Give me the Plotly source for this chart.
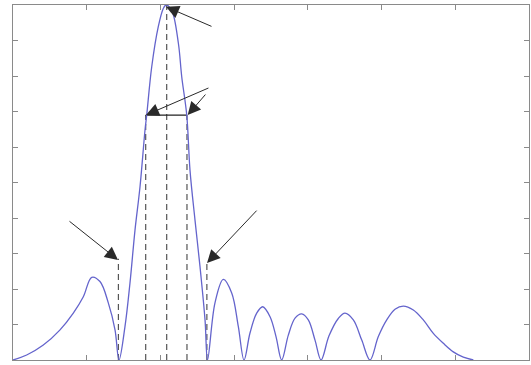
import plotly.graph_objects as go

# Curve samples
curve_x = [0.0, 0.186, 0.411, 0.638, 0.818, 0.954, 1.068, 1.180, 1.293, 1.384, 1.438,
           1.519, 1.587, 1.655, 1.723, 1.791, 1.814, 1.882, 1.971, 2.039, 2.076,
           2.153, 2.243, 2.289, 2.357, 2.401, 2.469, 2.537, 2.605, 2.639,
           2.740, 2.853, 2.967, 3.057, 3.134, 3.215, 3.306, 3.388, 3.487, 3.568, 3.645,
           3.735, 3.826, 3.917, 4.006, 4.097, 4.179, 4.287, 4.413, 4.504, 4.617, 4.731, 4.843,
           4.956, 5.070, 5.182, 5.295, 5.431, 5.566, 5.702, 5.838, 5.973, 6.109, 6.245]
curve_y = [0.0, 0.014, 0.042, 0.085, 0.132, 0.178, 0.233, 0.221, 0.161, 0.085, 0.0,
           0.094, 0.217, 0.366, 0.488, 0.648, 0.690, 0.826, 0.939, 0.990, 1.0,
           0.985, 0.893, 0.798, 0.690, 0.535, 0.394, 0.263, 0.113, 0.0,
           0.161, 0.227, 0.189, 0.094, 0.0, 0.076, 0.132, 0.150, 0.122, 0.066, 0.0,
           0.070, 0.118, 0.130, 0.113, 0.056, 0.0, 0.068, 0.117, 0.132, 0.113, 0.056, 0.0,
           0.066, 0.113, 0.143, 0.152, 0.141, 0.113, 0.075, 0.047, 0.023, 0.008, 0.0]

# Dashed marker lines: x position and top height
dash_x = [1.43, 1.80, 2.085, 2.36, 2.63]
dash_top = [0.285, 0.69, 1.0, 0.69, 0.275]

# Half-power bar
bar_x = [1.80, 2.36]
bar_y = [0.69, 0.69]

# Arrows: head (x, y) and tail (ax, ay)
arrow_x = [2.076, 1.804, 2.370, 1.424, 2.632]
arrow_y = [0.995, 0.690, 0.690, 0.282, 0.273]
arrow_ax = [2.713, 2.672, 2.628, 0.746, 3.324]
arrow_ay = [0.938, 0.768, 0.752, 0.394, 0.425]

fig = go.Figure()

for xv, top in zip(dash_x, dash_top):
    fig.add_trace(go.Scatter(x=[xv, xv], y=[0, top], mode="lines",
                             line=dict(color="#555555", width=1.2, dash="6px,4px"),
                             showlegend=False, hoverinfo="skip"))

fig.add_trace(go.Scatter(x=bar_x, y=bar_y, mode="lines",
                         line=dict(color="#222222", width=1.2),
                         showlegend=False, hoverinfo="skip"))

fig.add_trace(go.Scatter(x=curve_x, y=curve_y, mode="lines",
                         line=dict(color="#6464cc", width=1.3, shape="spline", smoothing=1.0),
                         showlegend=False))

for hx, hy, tx, ty in zip(arrow_x, arrow_y, arrow_ax, arrow_ay):
    fig.add_annotation(x=hx, y=hy, ax=tx, ay=ty, xref="x", yref="y",
                       axref="x", ayref="y", text="", showarrow=True,
                       arrowhead=2, arrowsize=2.6, arrowwidth=1,
                       arrowcolor="#2a2a2a", standoff=0)

axis_common = dict(showgrid=False, zeroline=False, showticklabels=False,
                   showline=True, linecolor="#8a8a8a", linewidth=1.3,
                   mirror="ticks", ticks="inside", ticklen=5,
                   tickcolor="#8a8a8a", tickwidth=1)

fig.update_xaxes(range=[0, 7], dtick=1, tick0=0, **axis_common)
fig.update_yaxes(range=[0, 1], dtick=0.1, tick0=0, **axis_common)

fig.update_layout(width=531, height=365,
                  margin=dict(l=13, r=2, t=5, b=5),
                  paper_bgcolor="white", plot_bgcolor="white")

fig.write_html("out.html", config={"displayModeBar": False},
               post_script="document.body.style.margin='0';document.body.style.overflow='hidden';")
